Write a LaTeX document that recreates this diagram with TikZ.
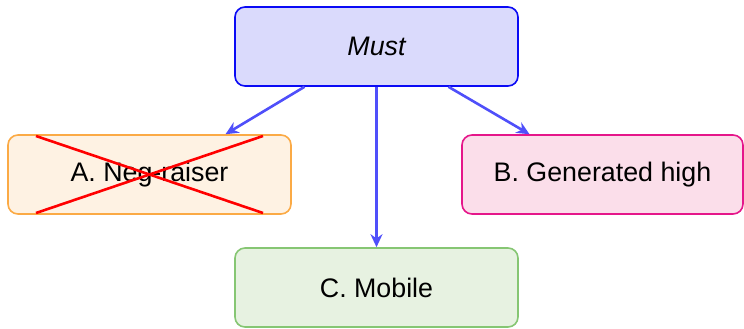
\documentclass[tikz,border=0pt]{standalone}
\usepackage{fontspec}
\setmainfont{Liberation Sans}
\usetikzlibrary{arrows.meta}
\definecolor{mustfill}{HTML}{DADAFC}
\definecolor{mustdraw}{HTML}{0A0AF5}
\definecolor{afill}{HTML}{FEF2E3}
\definecolor{adraw}{HTML}{FBAA45}
\definecolor{bfill}{HTML}{FBDEEA}
\definecolor{bdraw}{HTML}{E5168A}
\definecolor{cfill}{HTML}{E7F2E1}
\definecolor{cdraw}{HTML}{86C673}
\definecolor{arrowc}{HTML}{4F4FFA}
\begin{document}
\begin{tikzpicture}[x=1bp,y=-1bp,
  box/.style={rounded corners=10bp, line width=1.6bp, minimum width=283bp, minimum height=79bp,
    inner sep=0pt, font=\fontsize{26.8bp}{32bp}\selectfont},
  conn/.style={draw=arrowc, line width=2.6bp, -{Stealth[length=13bp,width=12bp]}},
  cross/.style={draw=red, line width=2.6bp}]
\useasboundingbox (0,0) rectangle (744,328);
\node[box, fill=mustfill, draw=mustdraw] (must) at (376.5,46.5) {\itshape Must};
\node[box, fill=afill, draw=adraw] (a) at (149.5,174.5) {A. Neg-raiser};
\node[box, fill=bfill, draw=bdraw, minimum width=281bp] (b) at (602.5,174.5) {B. Generated high};
\node[box, fill=cfill, draw=cdraw] (c) at (376.5,287.5) {C. Mobile};
\coordinate (x1) at (36,136);
\coordinate (x2) at (263,213);
\coordinate (x3) at (36,213);
\coordinate (x4) at (263,136);
\draw[cross] (x1) -- (x2);
\draw[cross] (x3) -- (x4);
\draw[conn] ([xshift=-72bp]must.south) -- ([xshift=76bp]a.north);
\draw[conn] (must.south) -- (c.north);
\draw[conn] ([xshift=72bp]must.south) -- ([xshift=-73bp]b.north);
\end{tikzpicture}
\end{document}
